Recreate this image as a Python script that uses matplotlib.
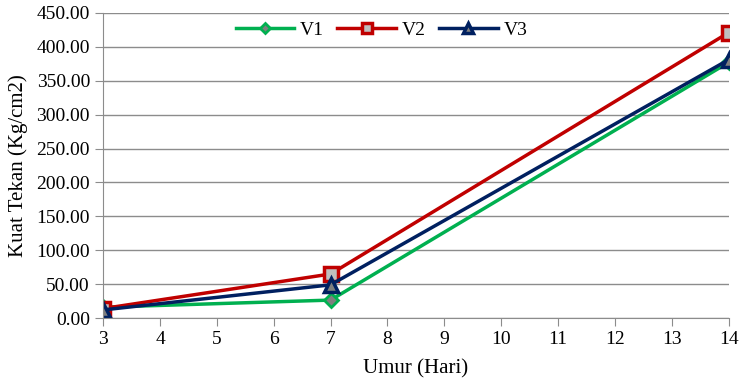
import matplotlib.pyplot as plt
from matplotlib.ticker import FormatStrFormatter

plt.rcParams['font.family'] = ['Liberation Serif', 'DejaVu Serif']

umur = [3, 7, 14]
v1 = [16.0, 26.5, 377.0]
v2 = [14.0, 65.0, 421.0]
v3 = [12.0, 49.0, 381.0]

fig = plt.figure(figsize=(7.42, 3.8), dpi=100)
ax = fig.add_axes([0.139, 0.163, 0.843, 0.803])

ax.plot(umur, v1, color='#00b050', lw=2.5, marker='D', ms=7,
        mfc='#7f7f7f', mec='#00b050', mew=2, label='V1')
ax.plot(umur, v2, color='#c00000', lw=2.5, marker='s', ms=10,
        mfc='#bfbfbf', mec='#c00000', mew=2.5, label='V2')
ax.plot(umur, v3, color='#002060', lw=2.5, marker='^', ms=10,
        mfc='#7f7f7f', mec='#002060', mew=2.5, label='V3')

ax.set_xlim(3, 14)
ax.set_ylim(0, 450)
ax.set_xticks(range(3, 15))
ax.set_yticks(range(0, 451, 50))
ax.yaxis.set_major_formatter(FormatStrFormatter('%.2f'))
ax.grid(axis='y', color='#8c8c8c', lw=1)
ax.set_axisbelow(True)
for s in ['top', 'right']:
    ax.spines[s].set_visible(False)
ax.spines['left'].set_color('#8c8c8c')
ax.spines['bottom'].set_color('#8c8c8c')
ax.tick_params(colors='#8c8c8c', labelcolor='black', labelsize=14, length=6)

ax.set_xlabel('Umur (Hari)', fontsize=15, labelpad=8)
ax.set_ylabel('Kuat Tekan (Kg/cm2)', fontsize=15, labelpad=6)
ax.legend(loc='upper center', ncol=3, frameon=False, fontsize=14,
          bbox_to_anchor=(0.445, 1.03), handlelength=3.0, handletextpad=0.3,
          columnspacing=0.7, markerscale=0.7)

fig.savefig('out.png')
